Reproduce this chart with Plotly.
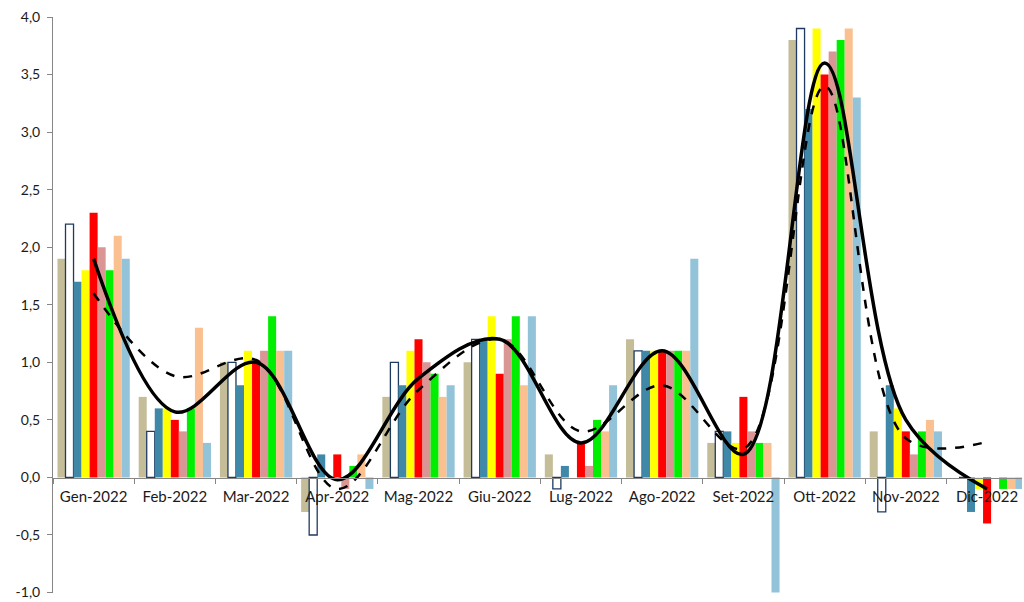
import plotly.graph_objects as go

# Months
months = ["Gen-2022", "Feb-2022", "Mar-2022", "Apr-2022", "Mag-2022", "Giu-2022",
          "Lug-2022", "Ago-2022", "Set-2022", "Ott-2022", "Nov-2022", "Dic-2022"]

# Bar series (monthly % changes)
s_tan = [1.9, 0.7, 1.0, -0.3, 0.7, 1.0, 0.2, 1.2, 0.3, 3.8, 0.4, 0.0]
s_outline = [2.2, 0.4, 1.0, -0.5, 1.0, 1.2, -0.1, 1.1, 0.4, 3.9, -0.3, 0.0]
s_steel = [1.7, 0.6, 0.8, 0.2, 0.8, 1.2, 0.1, 1.1, 0.4, 3.2, 0.8, -0.3]
s_yellow = [1.8, 0.6, 1.1, 0.0, 1.1, 1.4, 0.0, 1.1, 0.3, 3.9, 0.6, -0.1]
s_red = [2.3, 0.5, 1.0, 0.2, 1.2, 0.9, 0.3, 1.1, 0.7, 3.5, 0.4, -0.4]
s_rose = [2.0, 0.4, 1.1, -0.1, 1.0, 1.2, 0.1, 1.1, 0.4, 3.7, 0.2, 0.0]
s_green = [1.8, 0.6, 1.4, 0.1, 0.9, 1.4, 0.5, 1.1, 0.3, 3.8, 0.4, -0.1]
s_peach = [2.1, 1.3, 1.1, 0.2, 0.7, 0.8, 0.4, 1.1, 0.3, 3.9, 0.5, -0.1]
s_lightblue = [1.9, 0.3, 1.1, -0.1, 0.8, 1.4, 0.8, 1.9, -1.0, 3.3, 0.4, -0.1]

# Smoothed line series
line_solid = [1.9, 0.57, 1.0, -0.02, 0.86, 1.2, 0.3, 1.1, 0.2, 3.6, 0.5, -0.1]
line_dashed = [1.6, 0.88, 1.02, -0.1, 0.76, 1.2, 0.4, 0.8, 0.25, 3.4, 0.34, 0.31]

# Y axis ticks
y_ticks = [-1.0, -0.5, 0.0, 0.5, 1.0, 1.5, 2.0, 2.5, 3.0, 3.5, 4.0]
y_tick_text = ["-1,0", "-0,5", "0,0", "0,5", "1,0", "1,5", "2,0", "2,5", "3,0", "3,5", "4,0"]

bar_series = [
    (s_tan, "#C4BD97", None),
    (s_outline, "#FFFFFF", "#1F3A60"),
    (s_steel, "#3F88A8", None),
    (s_yellow, "#FFFF00", None),
    (s_red, "#FF0000", None),
    (s_rose, "#D99694", None),
    (s_green, "#00EE00", None),
    (s_peach, "#FAC090", None),
    (s_lightblue, "#93C3D8", None),
]

fig = go.Figure()
for vals, color, edge in bar_series:
    fig.add_trace(go.Bar(
        x=months, y=vals,
        marker=dict(color=color,
                    line=dict(color=edge if edge else color, width=1.3 if edge else 0)),
        showlegend=False,
    ))

fig.add_trace(go.Scatter(
    x=months, y=line_dashed, mode="lines",
    line=dict(color="black", width=2.5, dash="dash", shape="spline", smoothing=1.0),
    showlegend=False,
))
fig.add_trace(go.Scatter(
    x=months, y=line_solid, mode="lines",
    line=dict(color="black", width=3.5, shape="spline", smoothing=1.0),
    showlegend=False,
))

fig.update_layout(
    width=1024, height=602,
    margin=dict(l=53, r=2, t=17, b=7),
    paper_bgcolor="white", plot_bgcolor="white",
    barmode="group", bargap=0.11, bargroupgap=0,
    font=dict(family="Lato, Liberation Sans, sans-serif", size=14, color="#1a1a1a"),
)
fig.update_xaxes(
    type="category", range=[-0.5, 11.43],
    anchor="free", position=0.2,
    showline=True, linecolor="#868686", linewidth=1,
    ticks="outside", tickson="boundaries", ticklen=5, tickcolor="#868686",
    ticklabelstandoff=5,
    showgrid=False, zeroline=False,
    tickfont=dict(size=15),
)
fig.update_yaxes(
    range=[-1.004, 4.0],
    tickvals=y_ticks, ticktext=y_tick_text,
    showline=True, linecolor="#868686", linewidth=1,
    ticks="outside", ticklen=5, tickcolor="#868686",
    ticklabelstandoff=4, ticklabeloverflow="allow",
    showgrid=False, zeroline=False,
    tickfont=dict(size=14),
)

fig.write_html("out.html")
